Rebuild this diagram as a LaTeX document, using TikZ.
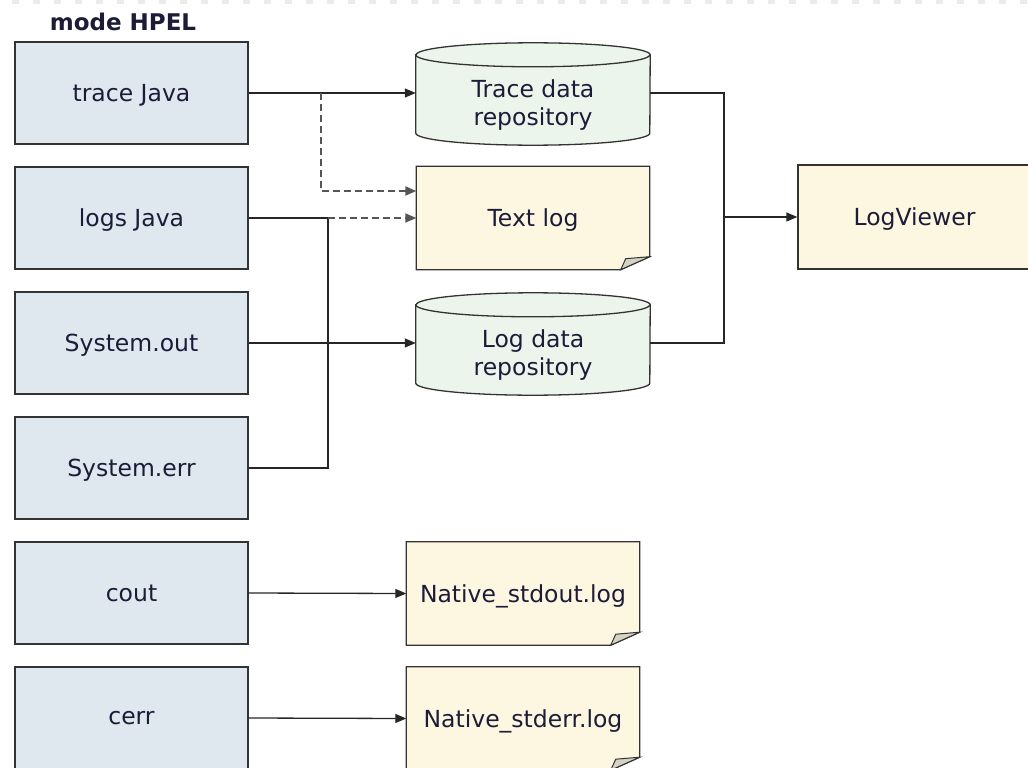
\documentclass[tikz,border=0pt]{standalone}
\usepackage{fontspec}
\setmainfont{DejaVu Sans}
\usetikzlibrary{arrows.meta,backgrounds}
\definecolor{srcfill}{HTML}{DFE8EF}
\definecolor{repofill}{HTML}{ECF5EC}
\definecolor{notefill}{HTML}{FDF7E1}
\definecolor{foldfill}{HTML}{D4D2C4}
\definecolor{edge}{HTML}{333333}
\definecolor{ink}{HTML}{1C1C38}
\definecolor{dashgray}{HTML}{555555}
\definecolor{topdash}{HTML}{EBEBEB}

\tikzset{
  lbl/.style={font=\fontsize{23.5}{28}\selectfont, text=ink, align=center, inner sep=0pt},
  oneline/.style={lbl, text depth=0pt},
  srcbox/.style={oneline, draw=edge, fill=srcfill, line width=1.3pt, minimum width=233pt, minimum height=102pt},
  repo/.style={lbl, minimum width=234pt, minimum height=80pt},
  notebox/.style={oneline, minimum width=233pt, minimum height=103pt},
  viewer/.style={oneline, draw=edge, fill=notefill, line width=1.3pt, minimum width=233pt, minimum height=104pt},
  conn/.style={draw=black!85, line width=1.3pt},
  arr/.style={conn, -{Triangle[length=11pt,width=9pt]}},
  dasharr/.style={draw=dashgray, line width=1.8pt, dash pattern=on 7pt off 4pt, -{Triangle[length=11pt,width=9pt]}},
  cylshape/.style={draw=edge, fill=repofill, line width=1.3pt},
  noteshape/.style={draw=edge, fill=notefill, line width=1.3pt},
}

% cylinder outline around a repository node (top cap sits above the node)
\newcommand\drawrepo[1]{%
  \filldraw[cylshape] ([yshift=10pt]#1.north west) -- ([yshift=12pt]#1.south west)
    arc[start angle=180, end angle=360, x radius=117pt, y radius=12pt]
    -- ([yshift=10pt]#1.north east)
    arc[start angle=0, end angle=180, x radius=117pt, y radius=12pt] -- cycle;
  \draw[edge, line width=1.3pt] ([yshift=10pt]#1.north west)
    arc[start angle=180, end angle=360, x radius=117pt, y radius=12pt];
}
% sheet of paper with a turned-up bottom right corner
\newcommand\drawnote[1]{%
  \filldraw[noteshape] (#1.north west) -- (#1.north east) -- ([yshift=13pt]#1.south east)
    -- ([xshift=-29pt]#1.south east) -- (#1.south west) -- cycle;
  \filldraw[draw=edge, fill=foldfill, line width=1pt] ([xshift=-29pt]#1.south east)
    -- ([xshift=-24pt,yshift=11pt]#1.south east) -- ([yshift=13pt]#1.south east) -- cycle;
}

\begin{document}
\begin{tikzpicture}[x=1pt, y=-1pt]
\useasboundingbox (0,0) rectangle (1028,768);
\clip (0,0) rectangle (1028,768);

% faint dotted rule along the top edge
\draw[topdash, line width=4pt, dash pattern=on 7pt off 14pt] (12,2) -- (1028,2);

\node[font=\bfseries\fontsize{23}{26}\selectfont, text=ink, inner sep=0pt] (title) at (123,22) {mode HPEL};

% sources
\node[srcbox] (tj)   at (131.5,93)  {trace Java};
\node[srcbox] (lj)   at (131.5,218) {logs Java};
\node[srcbox] (sout) at (131.5,343) {System.out};
\node[srcbox] (serr) at (131.5,468) {System.err};
\node[srcbox] (cout) at (131.5,593) {cout};
\node[srcbox] (cerr) at (131.5,718) {cerr};

% destinations
\node[repo]     (tr) at (533,105) {Trace data\\repository};
\node[notebox]  (tl) at (533,218) {Text log};
\node[repo]     (ld) at (533,355) {Log data\\repository};
\node[notebox]  (nso) at (523,593.5) {Native\_stdout.log};
\node[notebox]  (nse) at (523,718.5) {Native\_stderr.log};
\node[viewer]   (lv) at (914.5,217) {LogViewer};

\begin{scope}[on background layer]
  \drawrepo{tr}
  \drawrepo{ld}
  \drawnote{tl}
  \drawnote{nso}
  \drawnote{nse}
\end{scope}

% trace Java
\coordinate (tsplit) at (321,93);
\draw[arr] (tj.east) -- ([yshift=12pt]tr.west);
\draw[dasharr] (tsplit) |- ([yshift=27pt]tl.west);

% logs Java and System.err merge
\coordinate (ljoin) at (328,218);
\draw[conn] (lj.east) -- (ljoin) |- (serr.east);
\draw[dasharr] (ljoin) -- (tl.west);

% System.out
\draw[arr] (sout.east) -- ([yshift=12pt]ld.west);

% repositories into the viewer
\coordinate (rjoin) at (724,217);
\draw[conn] ([yshift=12pt]tr.east) -| (rjoin) |- ([yshift=12pt]ld.east);
\draw[arr] (rjoin) -- (lv.west);

% native streams
\draw[arr] (cout.east) -- (nso.west);
\draw[arr] (cerr.east) -- (nse.west);
\end{tikzpicture}
\end{document}
